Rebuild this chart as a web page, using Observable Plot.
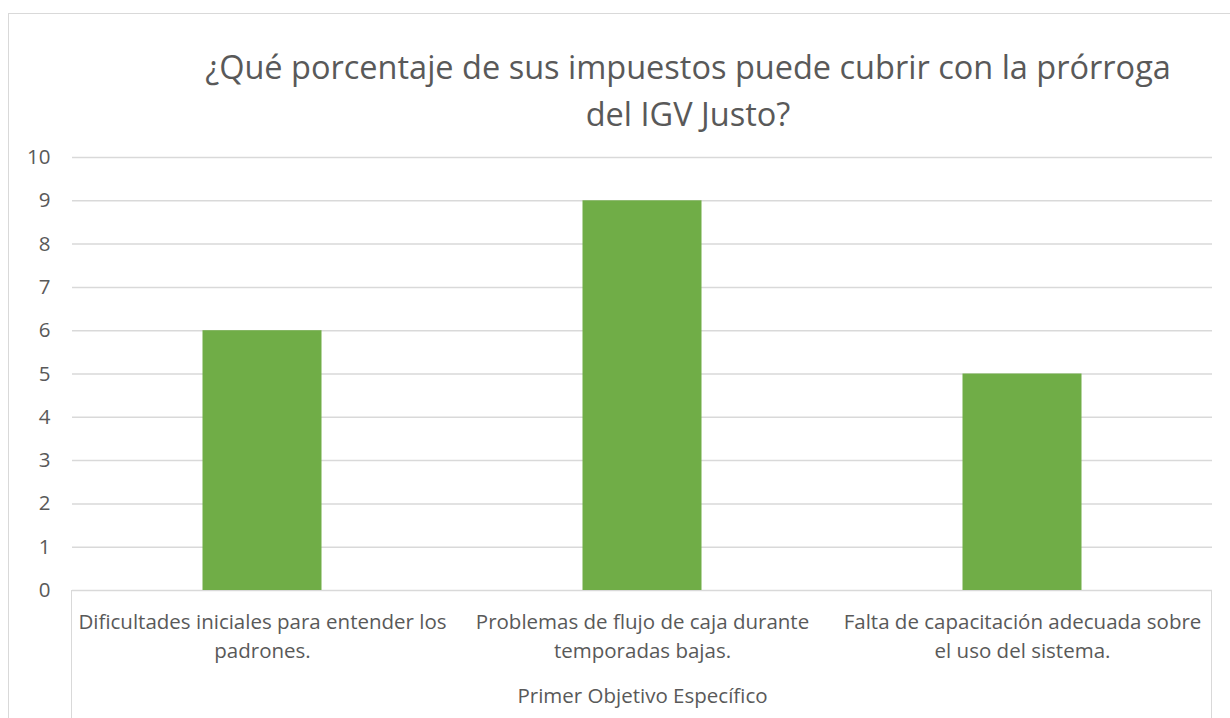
<!DOCTYPE html>
<html>
<head>
<meta charset="utf-8">
<script src="https://cdn.jsdelivr.net/npm/d3@7"></script>
<script src="https://cdn.jsdelivr.net/npm/@observablehq/plot@0.6"></script>
<style>
  html, body { margin: 0; padding: 0; background: #fff; }
  #wrap { position: relative; width: 1230px; height: 718px; overflow: hidden; font-family: "Open Sans", sans-serif; }
  #border { position: absolute; left: 8px; top: 13px; width: 1240px; height: 720px; border: 1.5px solid #d9d9d9; box-sizing: border-box; }
  #title { position: absolute; left: 188px; width: 1000px; top: 43px; text-align: center; font-size: 32.5px; line-height: 47px; color: #595959; font-family: "Open Sans", sans-serif; }
  .vline { position: absolute; width: 0; border-left: 1.5px solid #d9d9d9; top: 590px; height: 130px; }
  #plot { position: absolute; left: 0; top: 0; }
</style>
</head>
<body>
<div id="wrap">
  <div id="border"></div>
  <div id="plot"></div>
  <div class="vline" style="left:71px"></div>
  <div class="vline" style="left:1211px"></div>
  <div id="title">¿Qué porcentaje de sus impuestos puede cubrir con la prórroga<br>del IGV Justo?</div>
</div>
<script>
const categories = [
  "Dificultades iniciales para entender los padrones.",
  "Problemas de flujo de caja durante temporadas bajas.",
  "Falta de capacitación adecuada sobre el uso del sistema."
];
const categoryLabels = [
  "Dificultades iniciales para entender los\npadrones.",
  "Problemas de flujo de caja durante\ntemporadas bajas.",
  "Falta de capacitación adecuada sobre\nel uso del sistema."
];
const values = [6, 9, 5];
const yTicks = [0, 1, 2, 3, 4, 5, 6, 7, 8, 9, 10];
const groupLabel = "Primer Objetivo Específico";

const data = categories.map((c, i) => ({category: c, value: values[i]}));
const labelMap = new Map(categories.map((c, i) => [c, categoryLabels[i]]));

const chart = Plot.plot({
  width: 1230,
  height: 718,
  marginLeft: 72,
  marginRight: 18,
  marginTop: 157,
  marginBottom: 128,
  style: {fontFamily: "Open Sans, sans-serif", fontSize: "20.5px", color: "#595959", background: "transparent", overflow: "visible"},
  x: {domain: categories, padding: 0},
  y: {domain: [0, 10]},
  marks: [
    Plot.ruleY(yTicks, {stroke: "#d9d9d9", strokeWidth: 1.5}),
    Plot.barY(data, {x: "category", y: "value", fill: "#70AD47", insetLeft: 130.5, insetRight: 130.5}),
    Plot.axisY({ticks: yTicks, tickSize: 0, tickPadding: 22, fontSize: 20.5, fill: "#595959", label: null}),
    Plot.axisX({tickSize: 0, tickPadding: 18, fontSize: 20.5, fill: "#595959", label: null, lineHeight: 1.4,
      tickFormat: d => labelMap.get(d)}),
    Plot.text([groupLabel], {frameAnchor: "bottom", dy: 112, fontSize: 20.5, fill: "#595959"})
  ]
});
document.getElementById("plot").appendChild(chart);
</script>
</body>
</html>
